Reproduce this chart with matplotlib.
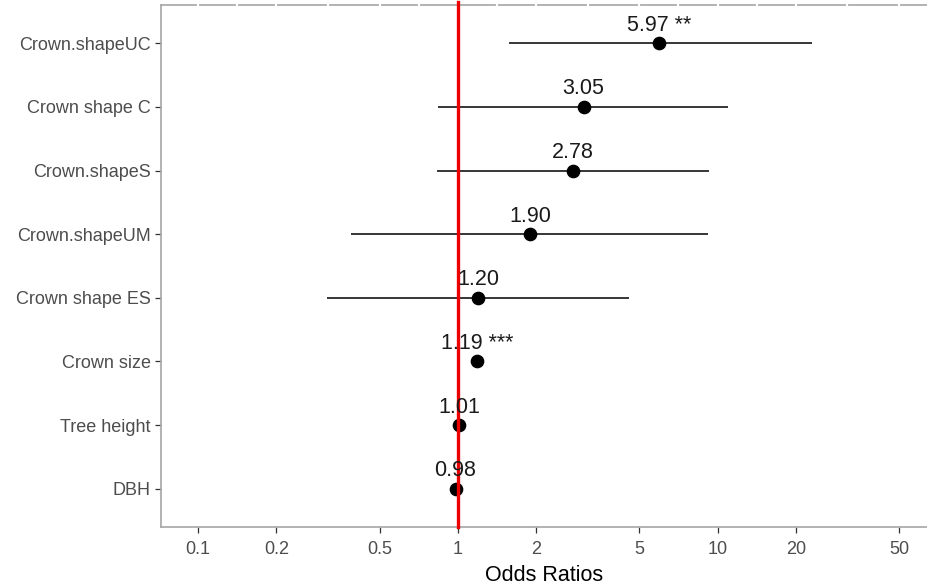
import matplotlib
matplotlib.use('Agg')
import matplotlib.pyplot as plt
import numpy as np

plt.rcParams['font.family'] = ['Liberation Sans', 'DejaVu Sans']

# model terms, bottom to top
terms = ['DBH', 'Tree height', 'Crown size', 'Crown shape ES',
         'Crown.shapeUM', 'Crown.shapeS', 'Crown shape C', 'Crown.shapeUC']
odds = [0.98, 1.01, 1.19, 1.20, 1.90, 2.78, 3.05, 5.97]
ci_low = [0.96, 0.99, 1.14, 0.313, 0.388, 0.83, 0.838, 1.57]
ci_high = [1.00, 1.03, 1.25, 4.55, 9.2, 9.23, 11.0, 23.0]
stars = ['', '', ' ***', '', '', '', '', ' **']

x_breaks = [0.1, 0.2, 0.5, 1, 2, 5, 10, 20, 50]
x_labels = ['0.1', '0.2', '0.5', '1', '2', '5', '10', '20', '50']

fig = plt.figure(figsize=(9.27, 5.87), dpi=100)
ax = fig.add_axes([161 / 927, 60 / 587, 766 / 927, 522 / 587])

ypos = np.arange(len(terms))

# confidence intervals
ax.hlines(ypos, ci_low, ci_high, color='black', linewidth=1.1, zorder=3)
# reference line at 1
ax.axvline(1, ymax=1.005, color='#EE0000', linewidth=2.4, zorder=8,
           clip_on=False)
# estimates
ax.scatter(odds, ypos, s=78, color='black', zorder=5)

for y, o, s in zip(ypos, odds, stars):
    ax.text(o, y + 0.12, f'{o:.2f}{s}', ha='center', va='bottom',
            fontsize=15.5, color='#1A1A1A', zorder=9)

ax.set_xscale('log')
ax.set_xlim(0.072, 64)
ax.set_ylim(-0.6, len(terms) - 0.4)
ax.set_xticks(x_breaks)
ax.set_xticklabels(x_labels)
ax.minorticks_off()
ax.set_yticks(ypos)
ax.set_yticklabels(terms)

ax.tick_params(axis='both', colors='#333333', labelcolor='#4D4D4D',
               labelsize=13, length=4, width=0.9, direction='out')
ax.tick_params(axis='x', pad=6)
ax.set_xlabel('Odds Ratios', fontsize=15.5, color='black', labelpad=5)

for side in ['left', 'bottom', 'top']:
    ax.spines[side].set_color('#A6A6A6')
    ax.spines[side].set_linewidth(1.2)
ax.spines['right'].set_visible(False)

# white grid lines only show through the top border
major = np.log10(x_breaks)
minor = (major[:-1] + major[1:]) / 2
grid_x = np.concatenate([major, minor])
ax.vlines(10 ** grid_x, 0.985, 1.02, color='white', linewidth=1.5,
          transform=ax.get_xaxis_transform(), clip_on=False, zorder=7)

fig.savefig('out.png', dpi=100)
